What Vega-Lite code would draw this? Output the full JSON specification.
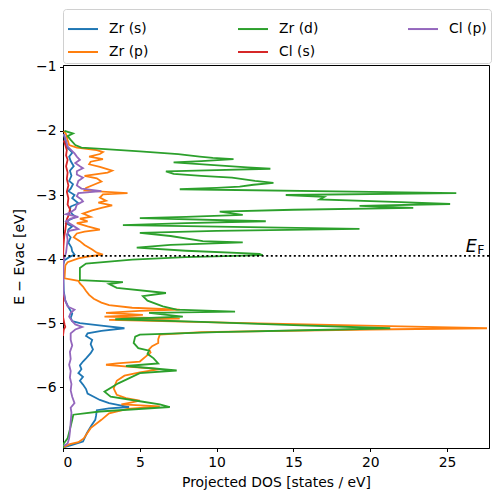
{
"$schema": "https://vega.github.io/schema/vega-lite/v6.json",
"width": 426, "height": 383,
"autosize": {"type": "none"},
"padding": {"left": 63, "top": 65, "right": 9, "bottom": 54},
"config": {
  "font": "DejaVu Sans",
  "view": {"stroke": "black", "strokeWidth": 1},
  "axis": {"grid": false, "domainColor": "black", "tickColor": "black", "tickSize": 3.5, "labelFontSize": 13.9, "titleFontSize": 13.9, "titleFontWeight": "normal", "labelColor": "black", "titleColor": "black", "labelPadding": 3.5},
  "legend": {"orient": "none", "legendX": 0, "legendY": -56, "columns": 3, "symbolType": "stroke", "symbolStrokeWidth": 2, "symbolSize": 900, "labelFontSize": 13.9, "labelOffset": 10, "columnPadding": 85, "rowPadding": -10, "padding": 4, "strokeColor": "#d0d0d0", "fillColor": "white", "cornerRadius": 3, "title": null, "labelColor": "black"}
},
"datasets": {
"dos": [
{"s":"Zr (s)","E":-2.05,"v":0.05},{"s":"Zr (s)","E":-2.15,"v":0.15},{"s":"Zr (s)","E":-2.24,"v":0.2},{"s":"Zr (s)","E":-2.30,"v":0.45},{"s":"Zr (s)","E":-2.34,"v":0.6},{"s":"Zr (s)","E":-2.40,"v":0.4},{"s":"Zr (s)","E":-2.47,"v":0.5},{"s":"Zr (s)","E":-2.55,"v":0.7},{"s":"Zr (s)","E":-2.62,"v":0.45},{"s":"Zr (s)","E":-2.70,"v":0.55},{"s":"Zr (s)","E":-2.78,"v":0.4},{"s":"Zr (s)","E":-2.83,"v":0.65},{"s":"Zr (s)","E":-2.90,"v":0.5},{"s":"Zr (s)","E":-2.94,"v":0.35},{"s":"Zr (s)","E":-3.00,"v":0.75},{"s":"Zr (s)","E":-3.05,"v":0.6},{"s":"Zr (s)","E":-3.13,"v":1.0},{"s":"Zr (s)","E":-3.18,"v":0.5},{"s":"Zr (s)","E":-3.24,"v":0.45},{"s":"Zr (s)","E":-3.30,"v":0.6},{"s":"Zr (s)","E":-3.34,"v":0.85},{"s":"Zr (s)","E":-3.39,"v":0.4},{"s":"Zr (s)","E":-3.44,"v":0.2},{"s":"Zr (s)","E":-3.49,"v":0.6},{"s":"Zr (s)","E":-3.54,"v":0.35},{"s":"Zr (s)","E":-3.60,"v":0.3},{"s":"Zr (s)","E":-3.66,"v":0.5},{"s":"Zr (s)","E":-3.74,"v":0.35},{"s":"Zr (s)","E":-3.82,"v":0.55},{"s":"Zr (s)","E":-3.88,"v":0.6},{"s":"Zr (s)","E":-3.93,"v":0.75},{"s":"Zr (s)","E":-3.97,"v":0.4},{"s":"Zr (s)","E":-4.02,"v":0.1},{"s":"Zr (s)","E":-4.10,"v":0.0},{"s":"Zr (s)","E":-4.50,"v":0.05},{"s":"Zr (s)","E":-4.65,"v":0.15},{"s":"Zr (s)","E":-4.75,"v":0.35},{"s":"Zr (s)","E":-4.85,"v":0.6},{"s":"Zr (s)","E":-4.92,"v":0.5},{"s":"Zr (s)","E":-4.97,"v":0.6},{"s":"Zr (s)","E":-5.00,"v":1.1},{"s":"Zr (s)","E":-5.04,"v":2.5},{"s":"Zr (s)","E":-5.08,"v":4.0},{"s":"Zr (s)","E":-5.12,"v":2.5},{"s":"Zr (s)","E":-5.16,"v":1.6},{"s":"Zr (s)","E":-5.20,"v":1.5},{"s":"Zr (s)","E":-5.26,"v":1.9},{"s":"Zr (s)","E":-5.33,"v":1.8},{"s":"Zr (s)","E":-5.41,"v":1.95},{"s":"Zr (s)","E":-5.47,"v":1.8},{"s":"Zr (s)","E":-5.55,"v":1.5},{"s":"Zr (s)","E":-5.60,"v":1.3},{"s":"Zr (s)","E":-5.66,"v":1.1},{"s":"Zr (s)","E":-5.72,"v":1.2},{"s":"Zr (s)","E":-5.78,"v":1.0},{"s":"Zr (s)","E":-5.84,"v":1.3},{"s":"Zr (s)","E":-5.90,"v":1.1},{"s":"Zr (s)","E":-5.96,"v":1.3},{"s":"Zr (s)","E":-6.03,"v":1.5},{"s":"Zr (s)","E":-6.10,"v":1.6},{"s":"Zr (s)","E":-6.15,"v":2.0},{"s":"Zr (s)","E":-6.20,"v":2.4},{"s":"Zr (s)","E":-6.25,"v":3.0},{"s":"Zr (s)","E":-6.31,"v":4.3},{"s":"Zr (s)","E":-6.33,"v":3.0},{"s":"Zr (s)","E":-6.36,"v":2.2},{"s":"Zr (s)","E":-6.45,"v":2.15},{"s":"Zr (s)","E":-6.51,"v":2.1},{"s":"Zr (s)","E":-6.60,"v":1.85},{"s":"Zr (s)","E":-6.72,"v":1.55},{"s":"Zr (s)","E":-6.85,"v":1.3},{"s":"Zr (s)","E":-6.90,"v":0.6},{"s":"Zr (s)","E":-6.94,"v":0.05},
{"s":"Zr (p)","E":-2.00,"v":0.05},{"s":"Zr (p)","E":-2.05,"v":0.2},{"s":"Zr (p)","E":-2.14,"v":0.3},{"s":"Zr (p)","E":-2.22,"v":0.4},{"s":"Zr (p)","E":-2.26,"v":0.9},{"s":"Zr (p)","E":-2.30,"v":2.2},{"s":"Zr (p)","E":-2.33,"v":2.6},{"s":"Zr (p)","E":-2.36,"v":2.4},{"s":"Zr (p)","E":-2.40,"v":1.7},{"s":"Zr (p)","E":-2.44,"v":2.6},{"s":"Zr (p)","E":-2.48,"v":1.8},{"s":"Zr (p)","E":-2.52,"v":1.7},{"s":"Zr (p)","E":-2.56,"v":2.4},{"s":"Zr (p)","E":-2.62,"v":3.2},{"s":"Zr (p)","E":-2.65,"v":2.9},{"s":"Zr (p)","E":-2.70,"v":1.4},{"s":"Zr (p)","E":-2.74,"v":2.2},{"s":"Zr (p)","E":-2.79,"v":2.5},{"s":"Zr (p)","E":-2.84,"v":2.0},{"s":"Zr (p)","E":-2.89,"v":1.5},{"s":"Zr (p)","E":-2.93,"v":1.4},{"s":"Zr (p)","E":-2.97,"v":4.2},{"s":"Zr (p)","E":-2.99,"v":2.6},{"s":"Zr (p)","E":-3.04,"v":2.4},{"s":"Zr (p)","E":-3.09,"v":2.8},{"s":"Zr (p)","E":-3.12,"v":2.3},{"s":"Zr (p)","E":-3.16,"v":3.2},{"s":"Zr (p)","E":-3.20,"v":2.5},{"s":"Zr (p)","E":-3.24,"v":1.9},{"s":"Zr (p)","E":-3.29,"v":1.3},{"s":"Zr (p)","E":-3.34,"v":1.8},{"s":"Zr (p)","E":-3.37,"v":1.1},{"s":"Zr (p)","E":-3.41,"v":1.6},{"s":"Zr (p)","E":-3.44,"v":0.9},{"s":"Zr (p)","E":-3.49,"v":1.6},{"s":"Zr (p)","E":-3.54,"v":2.4},{"s":"Zr (p)","E":-3.57,"v":1.4},{"s":"Zr (p)","E":-3.60,"v":0.9},{"s":"Zr (p)","E":-3.66,"v":0.7},{"s":"Zr (p)","E":-3.72,"v":1.1},{"s":"Zr (p)","E":-3.78,"v":1.4},{"s":"Zr (p)","E":-3.85,"v":1.9},{"s":"Zr (p)","E":-3.90,"v":2.2},{"s":"Zr (p)","E":-3.93,"v":2.6},{"s":"Zr (p)","E":-3.96,"v":1.6},{"s":"Zr (p)","E":-3.99,"v":1.0},{"s":"Zr (p)","E":-4.05,"v":0.3},{"s":"Zr (p)","E":-4.10,"v":0.15},{"s":"Zr (p)","E":-4.30,"v":0.1},{"s":"Zr (p)","E":-4.34,"v":1.0},{"s":"Zr (p)","E":-4.38,"v":1.1},{"s":"Zr (p)","E":-4.43,"v":1.3},{"s":"Zr (p)","E":-4.50,"v":1.5},{"s":"Zr (p)","E":-4.56,"v":1.7},{"s":"Zr (p)","E":-4.62,"v":2.0},{"s":"Zr (p)","E":-4.68,"v":2.5},{"s":"Zr (p)","E":-4.72,"v":3.0},{"s":"Zr (p)","E":-4.76,"v":4.5},{"s":"Zr (p)","E":-4.79,"v":7.6},{"s":"Zr (p)","E":-4.81,"v":5.0},{"s":"Zr (p)","E":-4.84,"v":2.8},{"s":"Zr (p)","E":-4.87,"v":5.2},{"s":"Zr (p)","E":-4.90,"v":2.7},{"s":"Zr (p)","E":-4.93,"v":7.6},{"s":"Zr (p)","E":-4.95,"v":3.0},{"s":"Zr (p)","E":-5.00,"v":12.0},{"s":"Zr (p)","E":-5.05,"v":22.0},{"s":"Zr (p)","E":-5.08,"v":27.6},{"s":"Zr (p)","E":-5.10,"v":20.0},{"s":"Zr (p)","E":-5.14,"v":9.0},{"s":"Zr (p)","E":-5.18,"v":6.3},{"s":"Zr (p)","E":-5.25,"v":6.2},{"s":"Zr (p)","E":-5.31,"v":6.2},{"s":"Zr (p)","E":-5.36,"v":5.8},{"s":"Zr (p)","E":-5.41,"v":5.6},{"s":"Zr (p)","E":-5.46,"v":5.7},{"s":"Zr (p)","E":-5.52,"v":5.4},{"s":"Zr (p)","E":-5.60,"v":5.0},{"s":"Zr (p)","E":-5.63,"v":3.5},{"s":"Zr (p)","E":-5.65,"v":2.8},{"s":"Zr (p)","E":-5.68,"v":4.2},{"s":"Zr (p)","E":-5.72,"v":6.3},{"s":"Zr (p)","E":-5.77,"v":5.0},{"s":"Zr (p)","E":-5.82,"v":4.0},{"s":"Zr (p)","E":-5.90,"v":3.5},{"s":"Zr (p)","E":-6.02,"v":3.3},{"s":"Zr (p)","E":-6.12,"v":3.5},{"s":"Zr (p)","E":-6.17,"v":4.1},{"s":"Zr (p)","E":-6.21,"v":5.0},{"s":"Zr (p)","E":-6.24,"v":4.4},{"s":"Zr (p)","E":-6.27,"v":3.8},{"s":"Zr (p)","E":-6.30,"v":6.3},{"s":"Zr (p)","E":-6.34,"v":4.2},{"s":"Zr (p)","E":-6.41,"v":3.0},{"s":"Zr (p)","E":-6.51,"v":2.5},{"s":"Zr (p)","E":-6.64,"v":1.8},{"s":"Zr (p)","E":-6.80,"v":1.35},{"s":"Zr (p)","E":-6.86,"v":1.0},{"s":"Zr (p)","E":-6.89,"v":0.45},{"s":"Zr (p)","E":-6.93,"v":0.1},{"s":"Zr (p)","E":-6.95,"v":0.0},
{"s":"Zr (d)","E":-2.00,"v":0.1},{"s":"Zr (d)","E":-2.04,"v":0.65},{"s":"Zr (d)","E":-2.08,"v":0.3},{"s":"Zr (d)","E":-2.14,"v":0.5},{"s":"Zr (d)","E":-2.22,"v":0.8},{"s":"Zr (d)","E":-2.26,"v":1.2},{"s":"Zr (d)","E":-2.28,"v":2.5},{"s":"Zr (d)","E":-2.32,"v":5.0},{"s":"Zr (d)","E":-2.36,"v":7.5},{"s":"Zr (d)","E":-2.40,"v":8.9},{"s":"Zr (d)","E":-2.42,"v":9.75},{"s":"Zr (d)","E":-2.44,"v":11.1},{"s":"Zr (d)","E":-2.47,"v":9.0},{"s":"Zr (d)","E":-2.49,"v":7.2},{"s":"Zr (d)","E":-2.53,"v":9.6},{"s":"Zr (d)","E":-2.57,"v":12.0},{"s":"Zr (d)","E":-2.59,"v":13.5},{"s":"Zr (d)","E":-2.61,"v":10.0},{"s":"Zr (d)","E":-2.63,"v":6.7},{"s":"Zr (d)","E":-2.67,"v":7.2},{"s":"Zr (d)","E":-2.70,"v":9.0},{"s":"Zr (d)","E":-2.73,"v":11.0},{"s":"Zr (d)","E":-2.78,"v":12.5},{"s":"Zr (d)","E":-2.81,"v":13.7},{"s":"Zr (d)","E":-2.84,"v":12.4},{"s":"Zr (d)","E":-2.87,"v":11.5},{"s":"Zr (d)","E":-2.89,"v":10.0},{"s":"Zr (d)","E":-2.91,"v":7.6},{"s":"Zr (d)","E":-2.95,"v":20.0},{"s":"Zr (d)","E":-2.97,"v":25.6},{"s":"Zr (d)","E":-3.00,"v":14.5},{"s":"Zr (d)","E":-3.03,"v":17.0},{"s":"Zr (d)","E":-3.07,"v":16.7},{"s":"Zr (d)","E":-3.11,"v":22.0},{"s":"Zr (d)","E":-3.14,"v":25.2},{"s":"Zr (d)","E":-3.17,"v":19.3},{"s":"Zr (d)","E":-3.20,"v":22.8},{"s":"Zr (d)","E":-3.23,"v":15.0},{"s":"Zr (d)","E":-3.26,"v":10.2},{"s":"Zr (d)","E":-3.31,"v":11.7},{"s":"Zr (d)","E":-3.34,"v":8.0},{"s":"Zr (d)","E":-3.36,"v":5.0},{"s":"Zr (d)","E":-3.41,"v":13.2},{"s":"Zr (d)","E":-3.44,"v":8.0},{"s":"Zr (d)","E":-3.47,"v":3.9},{"s":"Zr (d)","E":-3.53,"v":19.3},{"s":"Zr (d)","E":-3.56,"v":10.0},{"s":"Zr (d)","E":-3.59,"v":5.0},{"s":"Zr (d)","E":-3.64,"v":7.0},{"s":"Zr (d)","E":-3.72,"v":9.1},{"s":"Zr (d)","E":-3.74,"v":11.7},{"s":"Zr (d)","E":-3.78,"v":7.0},{"s":"Zr (d)","E":-3.82,"v":4.8},{"s":"Zr (d)","E":-3.87,"v":8.0},{"s":"Zr (d)","E":-3.92,"v":12.8},{"s":"Zr (d)","E":-3.94,"v":13.0},{"s":"Zr (d)","E":-3.97,"v":8.0},{"s":"Zr (d)","E":-4.01,"v":4.5},{"s":"Zr (d)","E":-4.07,"v":1.5},{"s":"Zr (d)","E":-4.14,"v":1.1},{"s":"Zr (d)","E":-4.33,"v":1.1},{"s":"Zr (d)","E":-4.36,"v":3.9},{"s":"Zr (d)","E":-4.39,"v":3.0},{"s":"Zr (d)","E":-4.45,"v":3.5},{"s":"Zr (d)","E":-4.53,"v":6.7},{"s":"Zr (d)","E":-4.58,"v":5.2},{"s":"Zr (d)","E":-4.65,"v":5.5},{"s":"Zr (d)","E":-4.74,"v":6.5},{"s":"Zr (d)","E":-4.79,"v":7.4},{"s":"Zr (d)","E":-4.82,"v":11.2},{"s":"Zr (d)","E":-4.84,"v":5.6},{"s":"Zr (d)","E":-4.90,"v":7.8},{"s":"Zr (d)","E":-4.94,"v":3.4},{"s":"Zr (d)","E":-4.98,"v":9.0},{"s":"Zr (d)","E":-5.03,"v":15.0},{"s":"Zr (d)","E":-5.08,"v":21.3},{"s":"Zr (d)","E":-5.10,"v":18.0},{"s":"Zr (d)","E":-5.14,"v":10.0},{"s":"Zr (d)","E":-5.18,"v":5.0},{"s":"Zr (d)","E":-5.21,"v":4.7},{"s":"Zr (d)","E":-5.31,"v":4.6},{"s":"Zr (d)","E":-5.39,"v":4.9},{"s":"Zr (d)","E":-5.43,"v":5.6},{"s":"Zr (d)","E":-5.48,"v":5.5},{"s":"Zr (d)","E":-5.55,"v":5.9},{"s":"Zr (d)","E":-5.63,"v":6.2},{"s":"Zr (d)","E":-5.67,"v":4.1},{"s":"Zr (d)","E":-5.74,"v":7.4},{"s":"Zr (d)","E":-5.78,"v":5.0},{"s":"Zr (d)","E":-5.94,"v":3.6},{"s":"Zr (d)","E":-6.07,"v":2.7},{"s":"Zr (d)","E":-6.15,"v":3.1},{"s":"Zr (d)","E":-6.22,"v":5.0},{"s":"Zr (d)","E":-6.27,"v":6.3},{"s":"Zr (d)","E":-6.31,"v":6.95},{"s":"Zr (d)","E":-6.38,"v":2.4},{"s":"Zr (d)","E":-6.43,"v":0.67},{"s":"Zr (d)","E":-6.51,"v":0.6},{"s":"Zr (d)","E":-6.67,"v":0.44},{"s":"Zr (d)","E":-6.80,"v":0.3},{"s":"Zr (d)","E":-6.88,"v":0.05},{"s":"Zr (d)","E":-6.95,"v":0.0},
{"s":"Cl (s)","E":-2.15,"v":0.05},{"s":"Cl (s)","E":-2.22,"v":0.15},{"s":"Cl (s)","E":-2.30,"v":0.25},{"s":"Cl (s)","E":-2.38,"v":0.2},{"s":"Cl (s)","E":-2.45,"v":0.3},{"s":"Cl (s)","E":-2.55,"v":0.2},{"s":"Cl (s)","E":-2.65,"v":0.3},{"s":"Cl (s)","E":-2.75,"v":0.25},{"s":"Cl (s)","E":-2.85,"v":0.35},{"s":"Cl (s)","E":-2.95,"v":0.25},{"s":"Cl (s)","E":-3.05,"v":0.35},{"s":"Cl (s)","E":-3.15,"v":0.3},{"s":"Cl (s)","E":-3.22,"v":0.45},{"s":"Cl (s)","E":-3.30,"v":0.4},{"s":"Cl (s)","E":-3.38,"v":0.25},{"s":"Cl (s)","E":-3.45,"v":0.2},{"s":"Cl (s)","E":-3.55,"v":0.15},{"s":"Cl (s)","E":-3.65,"v":0.08},{"s":"Cl (s)","E":-3.80,"v":0.03},{"s":"Cl (s)","E":-4.00,"v":0.0},{"s":"Cl (s)","E":-4.90,"v":0.0},{"s":"Cl (s)","E":-5.02,"v":0.1},{"s":"Cl (s)","E":-5.06,"v":0.15},{"s":"Cl (s)","E":-5.10,"v":0.05},{"s":"Cl (s)","E":-5.20,"v":0.0},
{"s":"Cl (p)","E":-2.05,"v":0.05},{"s":"Cl (p)","E":-2.15,"v":0.2},{"s":"Cl (p)","E":-2.24,"v":0.3},{"s":"Cl (p)","E":-2.29,"v":0.5},{"s":"Cl (p)","E":-2.35,"v":0.75},{"s":"Cl (p)","E":-2.40,"v":0.9},{"s":"Cl (p)","E":-2.45,"v":1.1},{"s":"Cl (p)","E":-2.50,"v":0.8},{"s":"Cl (p)","E":-2.55,"v":1.1},{"s":"Cl (p)","E":-2.58,"v":1.3},{"s":"Cl (p)","E":-2.63,"v":0.9},{"s":"Cl (p)","E":-2.68,"v":0.9},{"s":"Cl (p)","E":-2.73,"v":1.3},{"s":"Cl (p)","E":-2.78,"v":1.0},{"s":"Cl (p)","E":-2.85,"v":0.9},{"s":"Cl (p)","E":-2.90,"v":1.2},{"s":"Cl (p)","E":-2.94,"v":2.5},{"s":"Cl (p)","E":-2.97,"v":1.0},{"s":"Cl (p)","E":-3.02,"v":0.9},{"s":"Cl (p)","E":-3.07,"v":1.2},{"s":"Cl (p)","E":-3.10,"v":1.3},{"s":"Cl (p)","E":-3.15,"v":0.9},{"s":"Cl (p)","E":-3.22,"v":0.8},{"s":"Cl (p)","E":-3.27,"v":0.5},{"s":"Cl (p)","E":-3.30,"v":0.2},{"s":"Cl (p)","E":-3.34,"v":1.0},{"s":"Cl (p)","E":-3.37,"v":0.5},{"s":"Cl (p)","E":-3.41,"v":0.2},{"s":"Cl (p)","E":-3.47,"v":0.6},{"s":"Cl (p)","E":-3.53,"v":1.0},{"s":"Cl (p)","E":-3.56,"v":0.4},{"s":"Cl (p)","E":-3.62,"v":0.25},{"s":"Cl (p)","E":-3.70,"v":0.3},{"s":"Cl (p)","E":-3.80,"v":0.25},{"s":"Cl (p)","E":-3.90,"v":0.2},{"s":"Cl (p)","E":-3.97,"v":0.1},{"s":"Cl (p)","E":-4.05,"v":0.03},{"s":"Cl (p)","E":-4.50,"v":0.02},{"s":"Cl (p)","E":-4.65,"v":0.15},{"s":"Cl (p)","E":-4.74,"v":0.3},{"s":"Cl (p)","E":-4.79,"v":0.75},{"s":"Cl (p)","E":-4.84,"v":0.5},{"s":"Cl (p)","E":-4.90,"v":0.4},{"s":"Cl (p)","E":-4.97,"v":0.6},{"s":"Cl (p)","E":-5.02,"v":0.8},{"s":"Cl (p)","E":-5.06,"v":1.25},{"s":"Cl (p)","E":-5.10,"v":0.8},{"s":"Cl (p)","E":-5.16,"v":0.5},{"s":"Cl (p)","E":-5.26,"v":0.5},{"s":"Cl (p)","E":-5.35,"v":0.6},{"s":"Cl (p)","E":-5.45,"v":0.45},{"s":"Cl (p)","E":-5.56,"v":0.5},{"s":"Cl (p)","E":-5.65,"v":0.4},{"s":"Cl (p)","E":-5.75,"v":0.5},{"s":"Cl (p)","E":-5.85,"v":0.45},{"s":"Cl (p)","E":-5.95,"v":0.55},{"s":"Cl (p)","E":-6.05,"v":0.5},{"s":"Cl (p)","E":-6.15,"v":0.6},{"s":"Cl (p)","E":-6.25,"v":0.75},{"s":"Cl (p)","E":-6.32,"v":0.5},{"s":"Cl (p)","E":-6.40,"v":0.55},{"s":"Cl (p)","E":-6.55,"v":0.5},{"s":"Cl (p)","E":-6.70,"v":0.45},{"s":"Cl (p)","E":-6.80,"v":0.4},{"s":"Cl (p)","E":-6.88,"v":0.3},{"s":"Cl (p)","E":-6.92,"v":0.05}
],
"fermi": [{"E": -3.95}],
"labE": [{"v": 26.93, "E": -3.886, "t": "E"}],
"labF": [{"v": 26.97, "E": -3.917, "t": "F"}]
},
"layer": [
{
  "data": {"name": "dos"},
  "mark": {"type": "line", "strokeWidth": 1.8, "clip": true, "interpolate": "linear"},
  "encoding": {
    "x": {"field": "v", "type": "quantitative", "scale": {"domain": [0, 27.73], "nice": false, "zero": false}, "axis": {"values": [0, 5, 10, 15, 20, 25], "format": "d", "title": "Projected DOS [states / eV]", "titlePadding": 7}},
    "y": {"field": "E", "type": "quantitative", "scale": {"domain": [-6.95, -0.97], "nice": false, "zero": false}, "axis": {"values": [-1, -2, -3, -4, -5, -6], "format": "d", "title": "E − Evac [eV]", "titlePadding": 9}},
    "color": {"field": "s", "type": "nominal", "scale": {"domain": ["Zr (s)", "Zr (p)", "Zr (d)", "Cl (s)", "Cl (p)"], "range": ["#1f77b4", "#ff7f0e", "#2ca02c", "#d62728", "#9467bd"]}},
    "order": {"field": "E", "type": "quantitative"}
  }
},
{
  "data": {"name": "fermi"},
  "mark": {"type": "rule", "color": "black", "strokeWidth": 1.6, "strokeDash": [2, 2.6]},
  "encoding": {"y": {"field": "E", "type": "quantitative"}}
},
{
  "data": {"name": "labE"},
  "mark": {"type": "text", "align": "right", "baseline": "alphabetic", "fontSize": 17.5, "fontStyle": "italic", "color": "black"},
  "encoding": {"x": {"field": "v", "type": "quantitative"}, "y": {"field": "E", "type": "quantitative"}, "text": {"field": "t"}}
},
{
  "data": {"name": "labF"},
  "mark": {"type": "text", "align": "left", "baseline": "alphabetic", "fontSize": 12.5, "color": "black"},
  "encoding": {"x": {"field": "v", "type": "quantitative"}, "y": {"field": "E", "type": "quantitative"}, "text": {"field": "t"}}
}
]
}
